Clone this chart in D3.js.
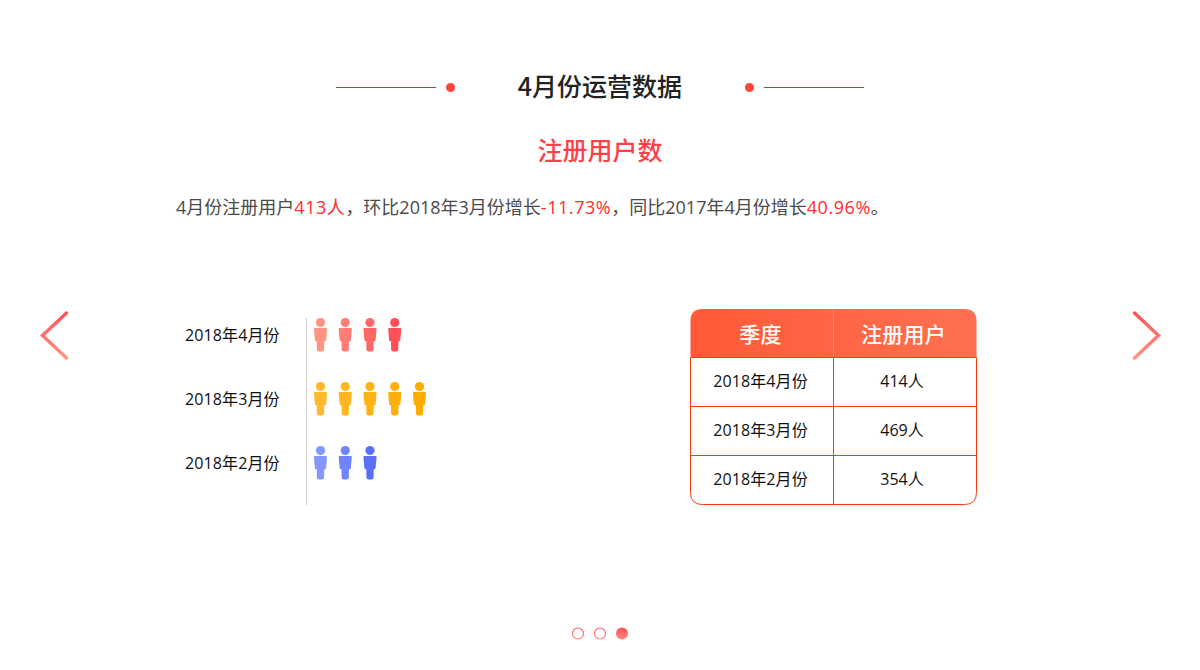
<!DOCTYPE html>
<html><head><meta charset="utf-8">
<script src="https://cdn.jsdelivr.net/npm/d3@7"></script>
<style>html,body{margin:0;padding:0;background:#fff}svg{display:block}text{font-family:"Open Sans","Noto Sans CJK SC",sans-serif}text.cjk{font-family:"Noto Sans CJK SC",sans-serif}</style>
</head><body><svg id="c" width="1200" height="670"></svg>
<script>
const titleText = "4月份运营数据";
const subTitle = "注册用户数";
const paragraph = [["4月份注册用户",0],["413人",1],["，环比2018年3月份增长",0],["-11.73%",1],["，同比2017年4月份增长",0],["40.96%",1],["。",0]];
const months = ["2018年4月份","2018年3月份","2018年2月份"];
const users = [414,469,354];
const iconCounts = [4,5,3];
const iconFrom = ["#ff9482","#ffb92c","#8398ff"];
const iconTo = ["#ff5058","#ffab00","#5a70fa"];
const tableHead = ["季度","注册用户"];
const pages = [0,1,2];
const activePage = 2;

const svg = d3.select("#c");
const defs = svg.append("defs");
const grad = (id,x2,y2,a,b)=>{const g=defs.append("linearGradient").attr("id",id).attr("x1",0).attr("y1",0).attr("x2",x2).attr("y2",y2);
  g.append("stop").attr("offset",0).attr("stop-color",a);g.append("stop").attr("offset",1).attr("stop-color",b);};
grad("hd",1,0,"#ff5a38","#ff7050");
const arrowGrad = (id,x)=>{const g=defs.append("linearGradient").attr("id",id).attr("gradientUnits","userSpaceOnUse").attr("x1",x).attr("y1",312).attr("x2",x).attr("y2",359);
  g.append("stop").attr("offset",0).attr("stop-color","#ff4f58");g.append("stop").attr("offset",1).attr("stop-color","#ff9482");};
arrowGrad("arL",54);arrowGrad("arR",1147);
grad("dot",0,1,"#ff5058","#ff8a7c");

// header
const red="#e8262a";
[[336,436],[764,864]].forEach(([a,b])=>svg.append("line").attr("x1",a).attr("x2",b).attr("y1",87.5).attr("y2",87.5).attr("stroke",red).attr("stroke-width",1));
[450.5,749.5].forEach(x=>svg.append("circle").attr("cx",x).attr("cy",87.5).attr("r",4.5).attr("fill","#ff4438"));
svg.append("text").attr("class","cjk").attr("x",600).attr("y",96).attr("text-anchor","middle").attr("font-size",25).attr("font-weight",500).attr("fill","#222").text(titleText);
svg.append("text").attr("class","cjk").attr("x",600).attr("y",160).attr("text-anchor","middle").attr("font-size",25).attr("font-weight",500).attr("fill","#ff3f4a").text(subTitle);
const para=svg.append("text").attr("x",176).attr("y",214).attr("font-size",18).attr("fill","#4a4a4a");
para.selectAll("tspan").data(paragraph).join("tspan").attr("fill",d=>d[1]?"#ff2d2d":"#4a4a4a")
  .attr("letter-spacing",d=>d[1]?0.55:0).text(d=>d[0]);

// pictogram
const rowY = d3.scaleBand().domain(months).range([304,496]).paddingInner(0);
const iconX = d3.scaleLinear().domain([0,4]).range([320.5,419.5]);
svg.append("line").attr("x1",306.5).attr("x2",306.5).attr("y1",318).attr("y2",505).attr("stroke","#cfcfcf");
const person="M-6.6,-11 Q-6.6,-12 -5.4,-12 L5.4,-12 Q6.6,-12 6.6,-11 L5.6,0 Q5.4,1.4 3.7,1.4 L3.6,9.5 Q3.6,11.5 1.6,11.5 L-1.6,11.5 Q-3.6,11.5 -3.6,9.5 L-3.7,1.4 Q-5.4,1.4 -5.6,0 Z";
months.forEach((m,i)=>{
  const cy=rowY(m)+rowY.bandwidth()/2;
  svg.append("text").attr("x",185).attr("y",cy+5).attr("font-size",16).attr("letter-spacing",0.12).attr("fill","#111").text(m);
  const col=d3.scaleLinear().domain([0,Math.max(iconCounts[i]-1,1)]).range([0,1]);
  const mix=d3.interpolateRgb(iconFrom[i],iconTo[i]);
  const g=svg.selectAll(null).data(d3.range(iconCounts[i])).join("g")
    .attr("transform",d=>`translate(${iconX(d)},${cy+4})`).attr("fill",d=>mix(col(d)));
  g.append("circle").attr("cx",0).attr("cy",-17.5).attr("r",4.6);
  g.append("path").attr("d",person);
});

// table
const tx=d3.scaleLinear().domain([0,2]).range([690.5,976.5]);
const ty=d3.scaleLinear().domain([0,4]).range([309,504.5]);
const bd="#f23c12";
const rad=12,x0=tx(0),x1=tx(2),y0=ty(0),y1=ty(1),y4=ty(4),xm=tx(1);
svg.append("path").attr("d",`M${x0},${y1} L${x0},${y0+rad} Q${x0},${y0} ${x0+rad},${y0} L${x1-rad},${y0} Q${x1},${y0} ${x1},${y0+rad} L${x1},${y1} Z`).attr("fill","url(#hd)");
svg.append("line").attr("x1",xm).attr("x2",xm).attr("y1",y0).attr("y2",y1).attr("stroke","#ff8a6c").attr("stroke-width",1);
svg.append("path").attr("d",`M${x0},${y1} L${x0},${y4-rad} Q${x0},${y4} ${x0+rad},${y4} L${x1-rad},${y4} Q${x1},${y4} ${x1},${y4-rad} L${x1},${y1}`).attr("fill","none").attr("stroke",bd);
svg.append("line").attr("x1",xm).attr("x2",xm).attr("y1",y1).attr("y2",y4).attr("stroke",bd);
[1,2,3].forEach(k=>svg.append("line").attr("x1",x0).attr("x2",x1).attr("y1",Math.round(ty(k))-0.5).attr("y2",Math.round(ty(k))-0.5).attr("stroke",bd));
tableHead.forEach((h,k)=>svg.append("text").attr("class","cjk").attr("x",tx(k+0.5)-1.5).attr("y",342).attr("text-anchor","middle").attr("font-size",21).attr("letter-spacing",0.3).attr("font-weight",500).attr("fill","#fff").text(h));
months.forEach((m,i)=>{
  const y=(ty(i+1)+ty(i+2))/2+4.5;
  svg.append("text").attr("x",tx(0.5)-1.5).attr("y",y).attr("text-anchor","middle").attr("font-size",16).attr("letter-spacing",0.12).attr("fill","#111").text(m);
  svg.append("text").attr("x",tx(1.5)-3).attr("y",y).attr("text-anchor","middle").attr("font-size",16).attr("fill","#111").text(users[i]+"人");
});

// arrows
const ln=d3.line();
svg.append("path").attr("d",ln([[66.5,313],[42.5,335.5],[66.5,358]])).attr("fill","none").attr("stroke","url(#arL)").attr("stroke-width",3.4).attr("stroke-linecap","round");
svg.append("path").attr("d",ln([[1134.5,313],[1158.5,335.5],[1134.5,358]])).attr("fill","none").attr("stroke","url(#arR)").attr("stroke-width",3.4).attr("stroke-linecap","round");

// pager
const px=d3.scaleLinear().domain([0,2]).range([578,622]);
svg.selectAll(null).data(pages).join("circle").attr("cx",d=>px(d)).attr("cy",633.5)
  .attr("r",d=>d===activePage?6:5.5)
  .attr("fill",d=>d===activePage?"url(#dot)":"#fff")
  .attr("stroke",d=>d===activePage?"none":"url(#dot)").attr("stroke-width",1.2);
</script></body></html>
